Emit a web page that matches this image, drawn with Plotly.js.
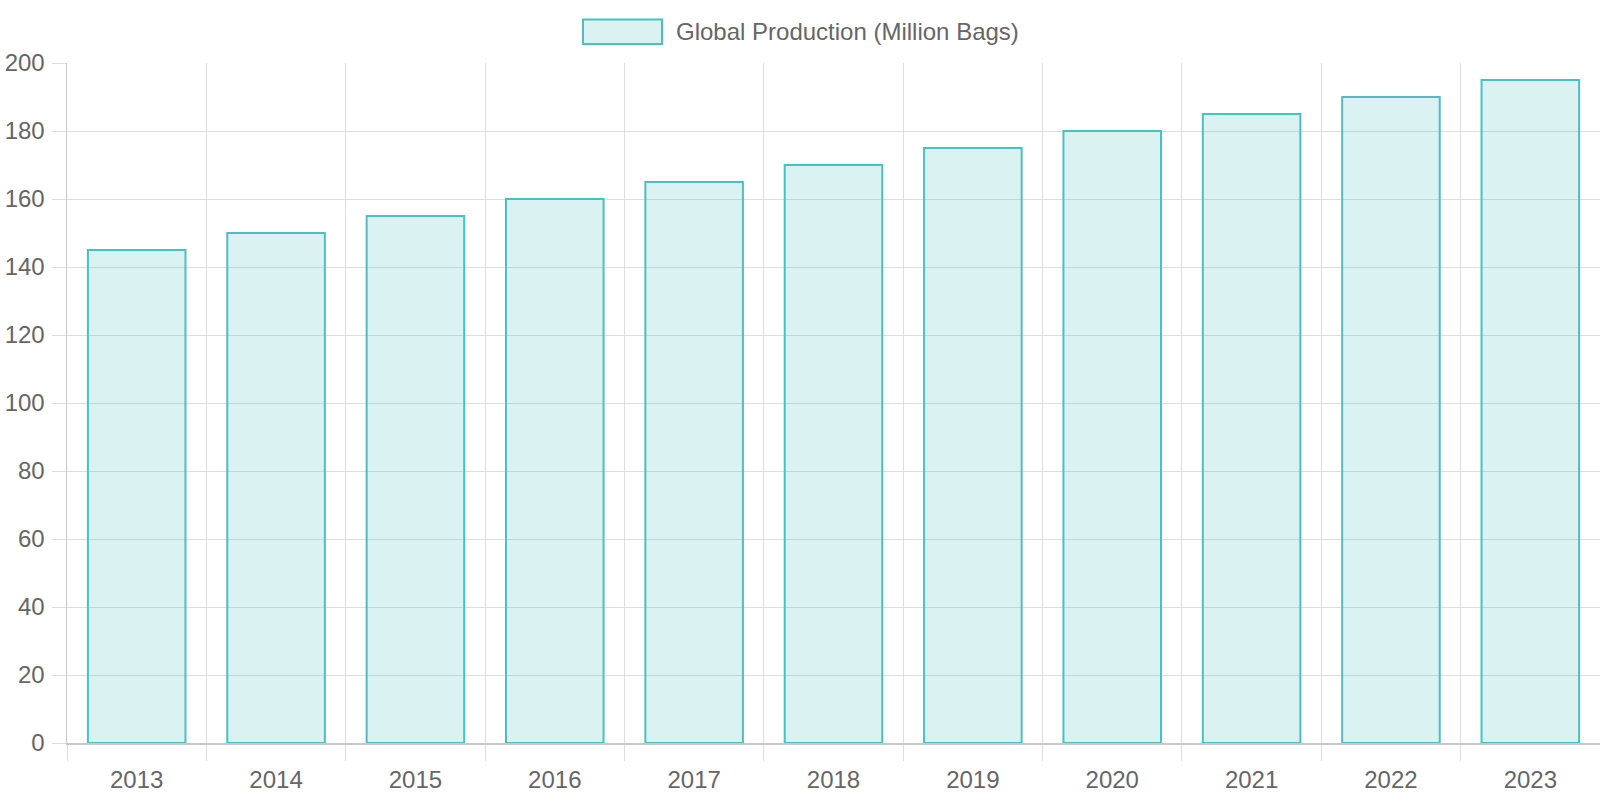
<!DOCTYPE html>
<html><head><meta charset="utf-8">
<script src="https://cdn.plot.ly/plotly-3.0.1.min.js"></script>
<style>html,body{margin:0;padding:0;background:#fff}#c{width:1600px;height:800px}</style>
</head><body><div id="c"></div>
<script>
const years = ["2013","2014","2015","2016","2017","2018","2019","2020","2021","2022","2023"];
const production = [145,150,155,160,165,170,175,180,185,190,195];
const seriesName = "Global Production (Million Bags)";

const font = {family: "Liberation Sans, Arial, sans-serif", size: 24, color: "#666"};
const L = 67, R = 0, T = 63, B = 57;
const PW = 1600 - L - R, PH = 800 - T - B;
const trace = {
  type: "bar", x: years, y: production, name: seriesName,
  marker: {color: "rgba(75,192,192,0.2)", line: {color: "rgb(75,192,192)", width: 2}},
  showlegend: false, hoverinfo: "x+y"
};
const layout = {
  width: 1600, height: 800,
  margin: {l: L, r: R, t: T, b: B},
  paper_bgcolor: "#fff", plot_bgcolor: "#fff",
  font: font,
  bargap: 0.3,
  xaxis: {type: "category", range: [-0.5, 10.5], tickson: "boundaries",
    showgrid: true, gridcolor: "#dedede", gridwidth: 1,
    ticks: "outside", ticklen: 16, tickcolor: "#dedede", tickwidth: 1,
    showline: true, linecolor: "#c8c8c8", linewidth: 1.5,
    tickfont: font, ticklabelstandoff: 15, zeroline: false},
  yaxis: {range: [0, 200], dtick: 20, showgrid: true, gridcolor: "#dedede", gridwidth: 1,
    ticks: "outside", ticklen: 14, tickcolor: "#dedede", tickwidth: 1,
    showline: true, linecolor: "#c8c8c8", linewidth: 1.5, zeroline: false,
    tickfont: font, ticklabelstandoff: 2},
  shapes: [{type: "rect", xref: "paper", yref: "paper",
    x0: (583-L)/PW, x1: (662-L)/PW, y0: 1 + (T-44)/PH, y1: 1 + (T-19.5)/PH,
    fillcolor: "rgba(75,192,192,0.2)", line: {color: "rgb(75,192,192)", width: 2}}],
  annotations: [{xref: "paper", yref: "paper", x: (674-L)/PW, y: 1 + (T-32)/PH,
    xanchor: "left", yanchor: "middle", text: seriesName, showarrow: false, font: font}]
};
Plotly.newPlot("c", [trace], layout, {displayModeBar: false, staticPlot: true});
</script></body></html>
